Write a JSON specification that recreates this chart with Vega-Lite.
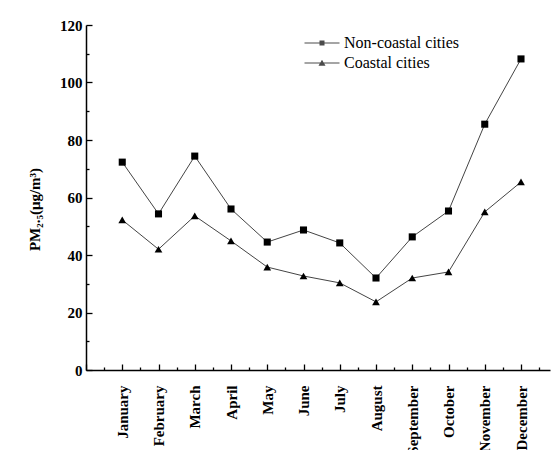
{
  "$schema": "https://vega.github.io/schema/vega-lite/v6.json",
  "autosize": {"type": "none"},
  "width": 464,
  "height": 345,
  "padding": {"left": 86, "top": 25, "right": 1, "bottom": 80},
  "background": "white",
  "config": {
    "view": {"stroke": null},
    "font": "Liberation Serif",
    "axis": {"grid": false, "domainColor": "black", "domainWidth": 1.5, "tickColor": "black", "tickWidth": 1.3, "labelColor": "black", "titleColor": "black", "labelFont": "Liberation Serif", "titleFont": "Liberation Serif"}
  },
  "data": {
    "values": [
      {"idx": 1, "series": "Non-coastal cities", "value": 72.3},
      {"idx": 2, "series": "Non-coastal cities", "value": 54.3},
      {"idx": 3, "series": "Non-coastal cities", "value": 74.4},
      {"idx": 4, "series": "Non-coastal cities", "value": 56.0},
      {"idx": 5, "series": "Non-coastal cities", "value": 44.5},
      {"idx": 6, "series": "Non-coastal cities", "value": 48.7},
      {"idx": 7, "series": "Non-coastal cities", "value": 44.2},
      {"idx": 8, "series": "Non-coastal cities", "value": 32.0},
      {"idx": 9, "series": "Non-coastal cities", "value": 46.3},
      {"idx": 10, "series": "Non-coastal cities", "value": 55.3},
      {"idx": 11, "series": "Non-coastal cities", "value": 85.5},
      {"idx": 12, "series": "Non-coastal cities", "value": 108.2},
      {"idx": 1, "series": "Coastal cities", "value": 52.2},
      {"idx": 2, "series": "Coastal cities", "value": 42.0},
      {"idx": 3, "series": "Coastal cities", "value": 53.6},
      {"idx": 4, "series": "Coastal cities", "value": 44.9},
      {"idx": 5, "series": "Coastal cities", "value": 35.8},
      {"idx": 6, "series": "Coastal cities", "value": 32.7},
      {"idx": 7, "series": "Coastal cities", "value": 30.3},
      {"idx": 8, "series": "Coastal cities", "value": 23.7},
      {"idx": 9, "series": "Coastal cities", "value": 32.0},
      {"idx": 10, "series": "Coastal cities", "value": 34.1},
      {"idx": 11, "series": "Coastal cities", "value": 55.0},
      {"idx": 12, "series": "Coastal cities", "value": 65.4}
    ]
  },
  "resolve": {"axis": {"x": "independent", "y": "independent"}},
  "layer": [
    {
      "mark": {"type": "line", "color": "#444", "strokeWidth": 1},
      "encoding": {
        "x": {"field": "idx", "type": "quantitative", "scale": {"domain": [0, 12.8], "nice": false, "zero": false},
          "axis": {"orient": "bottom", "values": [0.5, 1.5, 2.5, 3.5, 4.5, 5.5, 6.5, 7.5, 8.5, 9.5, 10.5, 11.5, 12.5], "labels": false, "tickSize": -3, "domain": false, "title": null}},
        "y": {"field": "value", "type": "quantitative", "scale": {"domain": [0, 120], "nice": false},
          "axis": {"orient": "left", "values": [10, 30, 50, 70, 90, 110], "labels": false, "tickSize": -3, "domain": false, "title": null}},
        "detail": {"field": "series"}
      }
    },
    {
      "transform": [{"filter": "datum.series === 'Non-coastal cities'"}],
      "mark": {"type": "point", "filled": true, "color": "black", "opacity": 1, "size": 50, "shape": "square"},
      "encoding": {
        "x": {"field": "idx", "type": "quantitative", "scale": {"domain": [0, 12.8], "nice": false, "zero": false},
          "axis": {"orient": "bottom", "values": [0, 1, 2, 3, 4, 5, 6, 7, 8, 9, 10, 11, 12], "tickSize": -6, "labelAngle": -90, "labelAlign": "right", "labelBaseline": "middle", "labelPadding": 21, "labelFontSize": 15, "labelFontWeight": "bold",
            "labelExpr": "['', 'January', 'February', 'March', 'April', 'May', 'June', 'July', 'August', 'September', 'October', 'November', 'December'][datum.value]", "title": null}},
        "y": {"field": "value", "type": "quantitative", "scale": {"domain": [0, 120], "nice": false},
          "axis": {"orient": "left", "values": [0, 20, 40, 60, 80, 100, 120], "tickSize": -6, "labelPadding": 10, "labelFontSize": 15, "labelFontWeight": "bold",
            "title": "PM₂.₅(μg/m³)", "titleFontSize": 15, "titleFontWeight": "bold", "titleX": -52, "titleY": 184, "titleAngle": -90, "titleAlign": "center", "titleBaseline": "middle"}}
      }
    },
    {
      "transform": [{"filter": "datum.series === 'Coastal cities'"}],
      "mark": {"type": "point", "filled": true, "color": "black", "opacity": 1, "size": 60, "shape": "triangle-up"},
      "encoding": {
        "x": {"field": "idx", "type": "quantitative", "scale": {"domain": [0, 12.8], "nice": false, "zero": false}, "axis": null},
        "y": {"field": "value", "type": "quantitative", "scale": {"domain": [0, 120], "nice": false}, "axis": null}
      }
    },
    {
      "mark": {"type": "point", "fill": "black", "stroke": "black", "strokeWidth": 1, "size": 0},
      "encoding": {
        "x": {"field": "idx", "type": "quantitative", "scale": {"domain": [0, 12.8], "nice": false, "zero": false}, "axis": null},
        "y": {"field": "value", "type": "quantitative", "scale": {"domain": [0, 120], "nice": false}, "axis": null},
        "shape": {"field": "series", "type": "nominal",
          "scale": {"domain": ["Non-coastal cities", "Coastal cities"], "range": ["M-3.5,-0.1L3.5,-0.1L3.5,0.1L-3.5,0.1Z M-0.5,-0.5L0.5,-0.5L0.5,0.5L-0.5,0.5Z", "M-3.5,-0.1L3.5,-0.1L3.5,0.1L-3.5,0.1Z M0,-0.65L0.7,0.55L-0.7,0.55Z"]},
          "legend": {"title": null, "orient": "none", "legendX": 228, "legendY": 10, "symbolSize": 100, "labelOffset": 14, "labelFontSize": 16, "labelFont": "Liberation Serif", "labelColor": "black", "rowPadding": 4, "symbolStrokeWidth": 1, "symbolStrokeColor": "black", "symbolFillColor": "black"}
        }
      }
    }
  ]
}
